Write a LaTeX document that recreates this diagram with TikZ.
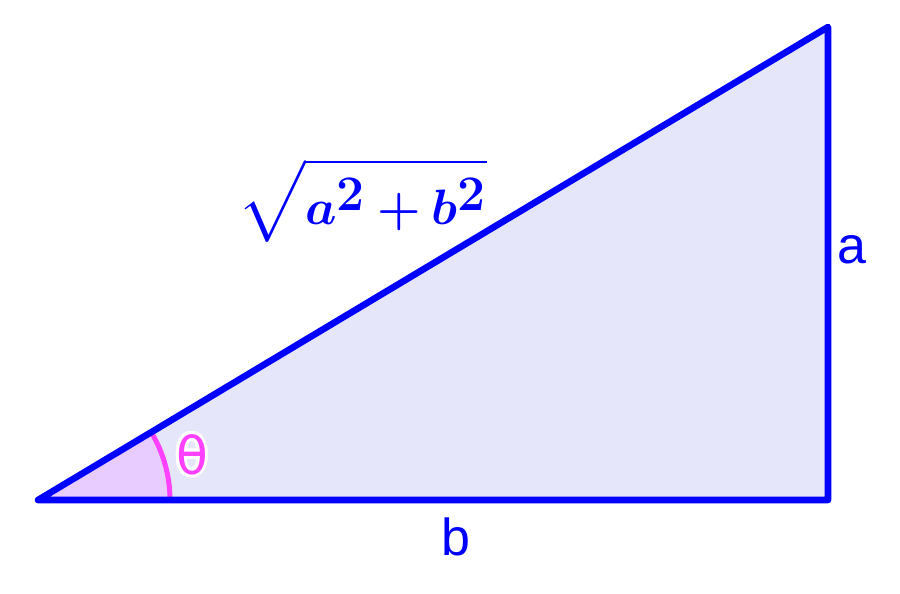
\documentclass[tikz,border=0pt]{standalone}
\usepackage{amsmath,amssymb,bm}
\usepackage{fontspec}
\setmainfont{Liberation Sans}
\newfontfamily\thetafont{DejaVu Sans}
\usepackage{contour}
\contourlength{1.5pt}
\usetikzlibrary{positioning}
\definecolor{edgeblue}{RGB}{0,0,255}
\definecolor{lavfill}{RGB}{230,230,250}
\definecolor{angfill}{RGB}{232,204,255}
\definecolor{angpink}{RGB}{255,64,255}

\begin{document}
\begin{tikzpicture}[x=0.5pt, y=-0.5pt]
\useasboundingbox (0,0) rectangle (900,594);
\tikzstyle{every node} = [inner sep=0pt, font=\fontsize{26}{30}\selectfont]
\coordinate (A) at (38,500);
\coordinate (B) at (828,500);
\coordinate (C) at (828,27);
\fill[lavfill] (A) -- (B) -- (C) -- cycle;
% angle sector
\fill[angfill] (A) -- ++(132,0) arc[start angle=0, end angle=-30.91, radius=132] -- cycle;
\draw[angpink, line width=2.5pt] (A) ++(132,0) arc[start angle=0, end angle=-30.91, radius=132];
\draw[edgeblue, line width=3.3pt, line join=round, line cap=round] (A) -- (B) -- (C) -- cycle;
\node[text=angpink] (theta) at (192,456) {\thetafont\contour{white}{θ}};
\node[text=edgeblue] (la) at (852,250) {a};
\node[text=edgeblue] (lb) at (456,537) {b};
\node[text=edgeblue, font=\fontsize{34}{40}\selectfont] (lc) at (362,200) {$\sqrt{\bm{a^2+b^2}}$};
\end{tikzpicture}
\end{document}
